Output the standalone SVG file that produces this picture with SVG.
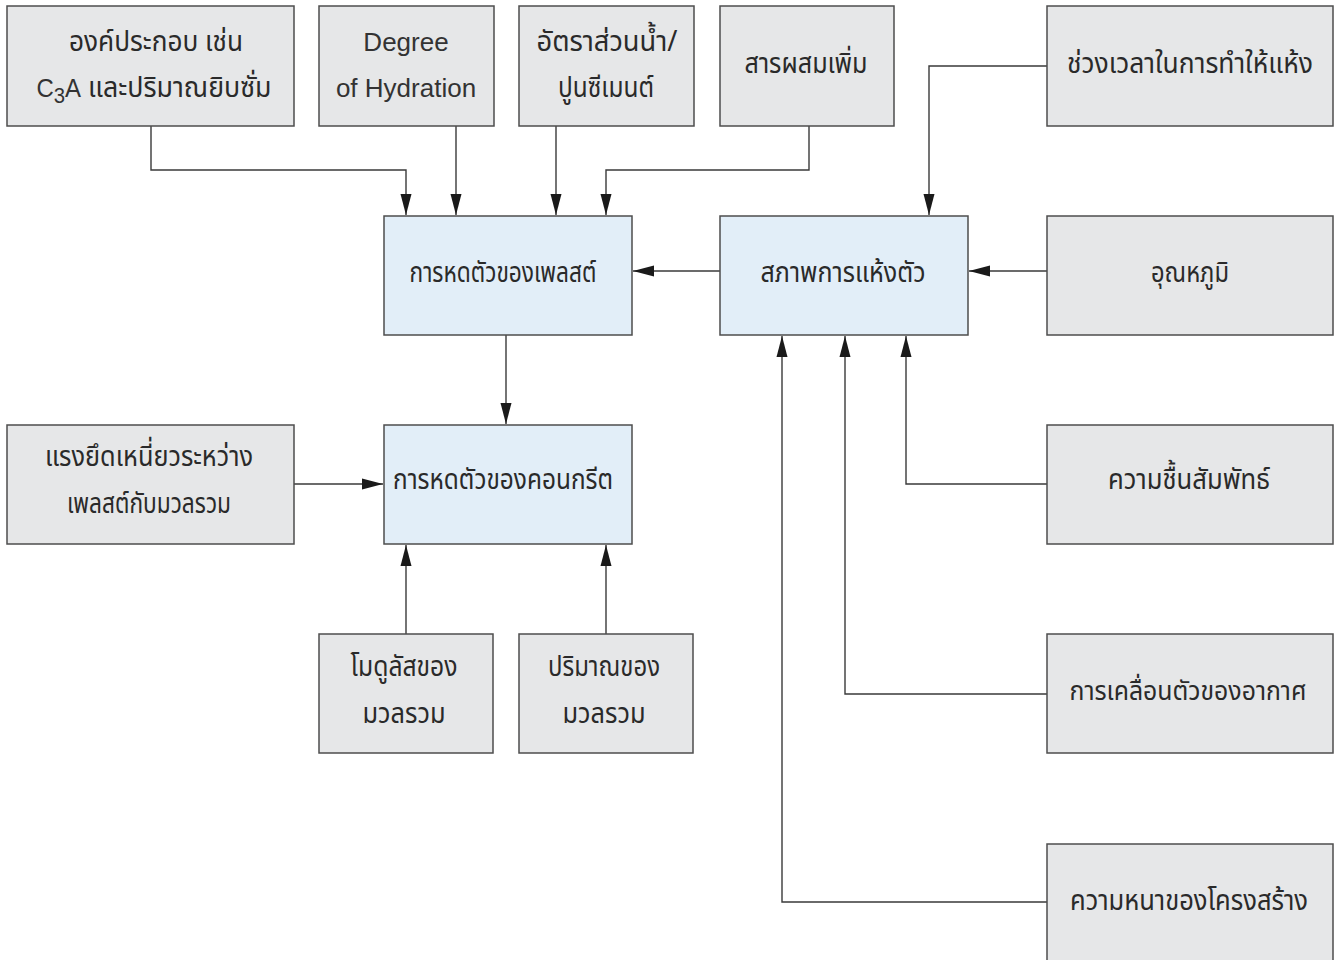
<svg xmlns="http://www.w3.org/2000/svg" width="1339" height="960" viewBox="0 0 1339 960">
<defs>
<style>
.g{fill:#e6e7e8;stroke:#4d4d4d;stroke-width:1.5}
.b{fill:#e2eef8;stroke:#4d4d4d;stroke-width:1.5}
.t{font-family:"Noto Sans Thai","Noto Sans","DejaVu Sans",sans-serif;font-size:29px;fill:#2a2a2a;text-anchor:middle}
.l{font-family:"Liberation Sans",Arial,sans-serif;font-size:26px;fill:#333333;text-anchor:middle}
.c{fill:none;stroke:#3a3a3a;stroke-width:1.4}
</style>
<marker id="ah" markerUnits="userSpaceOnUse" markerWidth="21" markerHeight="12" refX="21" refY="6" orient="auto">
<path d="M0,0.5 L21,6 L0,11.5 z" fill="#1a1a1a"/>
</marker>
</defs>
<rect width="1339" height="960" fill="#ffffff"/>
<g id="connectors">
<path class="c" d="M151,126 V170 H406 V215" marker-end="url(#ah)"/>
<path class="c" d="M456,126 V215" marker-end="url(#ah)"/>
<path class="c" d="M556,126 V215" marker-end="url(#ah)"/>
<path class="c" d="M809,126 V170 H606 V215" marker-end="url(#ah)"/>
<path class="c" d="M1047,66 H929 V215" marker-end="url(#ah)"/>
<path class="c" d="M1047,271 H969" marker-end="url(#ah)"/>
<path class="c" d="M720,271 H633" marker-end="url(#ah)"/>
<path class="c" d="M506,335 V424" marker-end="url(#ah)"/>
<path class="c" d="M294,484 H383" marker-end="url(#ah)"/>
<path class="c" d="M406,634 V545" marker-end="url(#ah)"/>
<path class="c" d="M606,634 V545" marker-end="url(#ah)"/>
<path class="c" d="M1047,484 H906 V336" marker-end="url(#ah)"/>
<path class="c" d="M1047,694 H845 V336" marker-end="url(#ah)"/>
<path class="c" d="M1047,902 H782 V336" marker-end="url(#ah)"/>
</g>
<g id="n1"><rect class="g" x="7" y="6" width="287" height="120"/>
<text class="t" x="156" y="51" textLength="174" lengthAdjust="spacingAndGlyphs">องค์ประกอบ เช่น</text>
<text class="t" x="154" y="97" textLength="235" lengthAdjust="spacingAndGlyphs"><tspan class="l" style="font-size:26px">C</tspan><tspan class="l" style="font-size:22px" dy="6">3</tspan><tspan class="l" style="font-size:26px" dy="-6">A</tspan> และปริมาณยิบซั่ม</text></g>
<g id="n2"><rect class="g" x="319" y="6" width="175" height="120"/>
<text class="l" x="406" y="51">Degree</text>
<text class="l" x="406" y="97">of Hydration</text></g>
<g id="n3"><rect class="g" x="519" y="6" width="175" height="120"/>
<text class="t" x="607" y="51" textLength="141" lengthAdjust="spacingAndGlyphs">อัตราส่วนน้ำ/</text>
<text class="t" x="606" y="97" textLength="96" lengthAdjust="spacingAndGlyphs">ปูนซีเมนต์</text></g>
<g id="n4"><rect class="g" x="720" y="6" width="174" height="120"/>
<text class="t" x="806" y="73" textLength="123" lengthAdjust="spacingAndGlyphs">สารผสมเพิ่ม</text></g>
<g id="n5"><rect class="g" x="1047" y="6" width="286" height="120"/>
<text class="t" x="1190" y="73" textLength="246" lengthAdjust="spacingAndGlyphs">ช่วงเวลาในการทำให้แห้ง</text></g>
<g id="n6"><rect class="b" x="384" y="216" width="248" height="119"/>
<text class="t" x="503" y="282" textLength="187" lengthAdjust="spacingAndGlyphs">การหดตัวของเพลสต์</text></g>
<g id="n7"><rect class="b" x="720" y="216" width="248" height="119"/>
<text class="t" x="843" y="282" textLength="165" lengthAdjust="spacingAndGlyphs">สภาพการแห้งตัว</text></g>
<g id="n8"><rect class="g" x="1047" y="216" width="286" height="119"/>
<text class="t" x="1190" y="282" textLength="78" lengthAdjust="spacingAndGlyphs">อุณหภูมิ</text></g>
<g id="n9"><rect class="g" x="7" y="425" width="287" height="119"/>
<text class="t" x="149" y="466" textLength="208" lengthAdjust="spacingAndGlyphs">แรงยึดเหนี่ยวระหว่าง</text>
<text class="t" x="149" y="513" textLength="164" lengthAdjust="spacingAndGlyphs">เพลสต์กับมวลรวม</text></g>
<g id="n10"><rect class="b" x="384" y="425" width="248" height="119"/>
<text class="t" x="503" y="489" textLength="220" lengthAdjust="spacingAndGlyphs">การหดตัวของคอนกรีต</text></g>
<g id="n11"><rect class="g" x="1047" y="425" width="286" height="119"/>
<text class="t" x="1189" y="489" textLength="162" lengthAdjust="spacingAndGlyphs">ความชื้นสัมพัทธ์</text></g>
<g id="n12"><rect class="g" x="319" y="634" width="174" height="119"/>
<text class="t" x="404" y="676" textLength="107" lengthAdjust="spacingAndGlyphs">โมดูลัสของ</text>
<text class="t" x="404" y="723" textLength="83" lengthAdjust="spacingAndGlyphs">มวลรวม</text></g>
<g id="n13"><rect class="g" x="519" y="634" width="174" height="119"/>
<text class="t" x="604" y="676" textLength="112" lengthAdjust="spacingAndGlyphs">ปริมาณของ</text>
<text class="t" x="604" y="723" textLength="83" lengthAdjust="spacingAndGlyphs">มวลรวม</text></g>
<g id="n14"><rect class="g" x="1047" y="634" width="286" height="119"/>
<text class="t" x="1188" y="700" style="font-size:26px" textLength="237" lengthAdjust="spacingAndGlyphs">การเคลื่อนตัวของอากาศ</text></g>
<g id="n15"><rect class="g" x="1047" y="844" width="286" height="125"/>
<text class="t" x="1189" y="910" textLength="238" lengthAdjust="spacingAndGlyphs">ความหนาของโครงสร้าง</text></g>
</svg>
